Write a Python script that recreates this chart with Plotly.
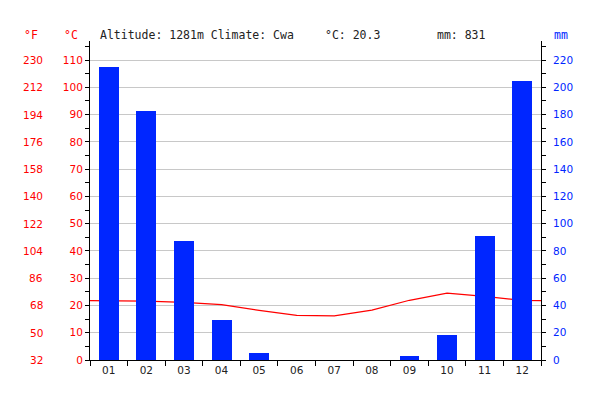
import plotly.graph_objects as go

months = ["01", "02", "03", "04", "05", "06", "07", "08", "09", "10", "11", "12"]
precip_mm = [215, 183, 87, 29, 5, 0, 0, 0, 3, 18, 91, 205]
temp_c = [21.7, 21.6, 21.1, 20.3, 18.2, 16.4, 16.2, 18.3, 21.9, 24.5, 23.3, 21.9]
c_ticks = [0, 10, 20, 30, 40, 50, 60, 70, 80, 90, 100, 110]
f_ticks = [32, 50, 68, 86, 104, 122, 140, 158, 176, 194, 212, 230]
mm_ticks = [0, 20, 40, 60, 80, 100, 120, 140, 160, 180, 200, 220]
altitude = "1281m"
climate = "Cwa"
mean_temp = "20.3"
total_mm = "831"

RED = "#ff0000"
BLUE = "#0026ff"
FONT = "DejaVu Sans Mono"
TFONT = "DejaVu Sans"

xs = list(range(1, 13))
edge = (temp_c[0] + temp_c[-1]) / 2
line_x = [0.5] + xs + [12.5]
line_y = [edge] + temp_c + [edge]

fig = go.Figure()
fig.add_trace(go.Bar(x=xs, y=precip_mm, yaxis="y2", marker=dict(color=BLUE, line=dict(width=0)),
                     width=0.53, showlegend=False, hoverinfo="skip"))
fig.add_trace(go.Scatter(x=line_x, y=line_y, mode="lines", line=dict(color=RED, width=1.2),
                         showlegend=False, hoverinfo="skip"))

L, R = 90, 59
W = 600 - L - R

annotations = []
for c, f in zip(c_ticks, f_ticks):
    annotations.append(dict(x=0, xref="paper", y=c, yref="y", text=str(f), showarrow=False,
                            xanchor="right", yanchor="middle", xshift=-46, borderpad=0,
                            font=dict(family=TFONT, size=10.5, color=RED)))
header = [
    (23, "°F", RED),
    (63, "°C", RED),
    (99, f"Altitude: {altitude} Climate: {climate}", "#222222"),
    (324, f"°C: {mean_temp}", "#222222"),
    (436, f"mm: {total_mm}", "#222222"),
    (553, "mm", BLUE),
]
for px, txt, col in header:
    annotations.append(dict(x=(px - L) / W, xref="paper", y=1, yref="paper", yanchor="middle",
                            yshift=6, showarrow=False, xanchor="left", borderpad=0, text=txt,
                            font=dict(family=FONT, size=11.5, color=col)))

fig.update_layout(
    width=600, height=400,
    margin=dict(l=L, r=R, t=41, b=40),
    paper_bgcolor="white", plot_bgcolor="white",
    bargap=0,
    annotations=annotations,
    xaxis=dict(range=[0.5, 12.5], tickvals=xs, ticktext=months, ticks="", showgrid=False,
               zeroline=False, showline=True, linecolor="black", linewidth=1,
               tickfont=dict(family=TFONT, size=10.5, color="#222222"),
               minor=dict(tick0=0.5, dtick=1, ticks="outside", ticklen=5, tickcolor="black", showgrid=False)),
    yaxis=dict(range=[0, 117], tickvals=c_ticks, ticks="outside", ticklen=4, tickcolor="black",
               showline=True, linecolor="black", linewidth=1, showgrid=True, gridcolor="#c8c8c8",
               zeroline=False, tickfont=dict(family=TFONT, size=10.5, color=RED),
               minor=dict(dtick=5, ticks="outside", ticklen=4, tickcolor="black", showgrid=False)),
    yaxis2=dict(range=[0, 234], tickvals=mm_ticks, overlaying="y", side="right", ticks="outside",
                ticklen=4, tickcolor="black", showline=True, linecolor="black", linewidth=1,
                showgrid=False, zeroline=False, ticklabelstandoff=5,
                tickfont=dict(family=TFONT, size=10.5, color=BLUE),
                minor=dict(dtick=10, ticks="outside", ticklen=4, tickcolor="black", showgrid=False)),
)

fig.write_html("out.html")
